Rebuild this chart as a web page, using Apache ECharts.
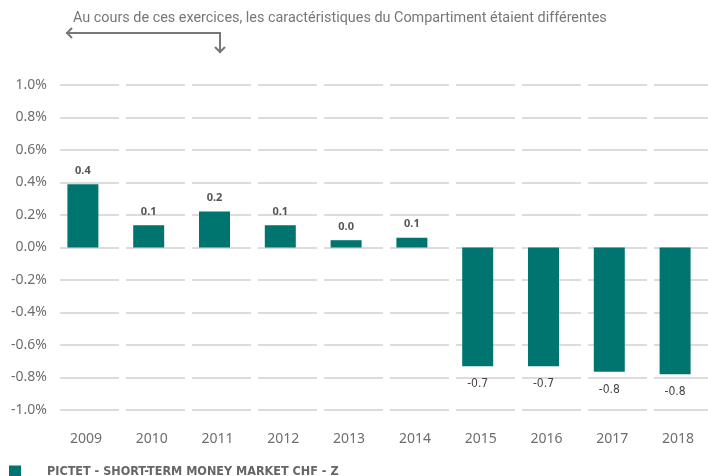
<!DOCTYPE html>
<html>
<head>
<meta charset="utf-8">
<script src="https://cdn.jsdelivr.net/npm/echarts@6/dist/echarts.min.js"></script>
<style>
    html, body { margin: 0; padding: 0; background: #fff; }
    #chart { width: 708px; height: 476px; }
</style>
</head>
<body>
<div id="chart"></div>
<script>
const years = ['2009', '2010', '2011', '2012', '2013', '2014', '2015', '2016', '2017', '2018']
const returns = [0.39, 0.137, 0.222, 0.137, 0.045, 0.06, -0.73, -0.73, -0.765, -0.78]
const seriesName = 'PICTET - SHORT-TERM MONEY MARKET CHF - Z'
const note = 'Au cours de ces exercices, les caractéristiques du Compartiment étaient différentes'

const barColor = '#00756f'
const grey = '#6e6e6e'
const narrow = '"DejaVu Sans Condensed", Roboto, sans-serif'

// gridlines are broken at each category: lead gap, then dash/gap per column
const gridDash = [0, 10]
for (let i = 0; i < years.length; i++) gridDash.push(59, 7)

const chart = echarts.init(document.getElementById('chart'))

chart.setOption({
    animation: false,
    grid: {
        left: 50,
        top: 85,
        width: 660,
        height: 325
    },
    legend: {
        left: 9,
        top: 465,
        padding: 0,
        icon: 'rect',
        itemWidth: 12,
        itemHeight: 12,
        textStyle: {
            fontFamily: narrow,
            fontWeight: 'bold',
            fontSize: 12.5,
            color: '#666',
            padding: [0, 0, 0, 21]
        },
        data: [seriesName]
    },
    xAxis: {
        type: 'category',
        data: years,
        axisLine: { show: false },
        axisTick: { show: false },
        axisLabel: {
            fontFamily: 'Noto Sans',
            fontSize: 14,
            color: grey,
            margin: 22,
            padding: [0, 0, 0, 6]
        }
    },
    yAxis: {
        type: 'value',
        min: -1,
        max: 1,
        interval: 0.2,
        axisLine: { show: false },
        axisTick: { show: false },
        axisLabel: {
            fontFamily: 'Noto Sans',
            fontSize: 14,
            color: grey,
            margin: 3,
            formatter: v => v.toFixed(1) + '%'
        },
        splitLine: {
            lineStyle: { color: '#dcdcdc', width: 2, type: gridDash }
        }
    },
    series: [{
        name: seriesName,
        type: 'bar',
        barWidth: 31,
        itemStyle: { color: barColor },
        data: returns.map(v => ({
            value: v,
            label: v >= 0
                ? { position: 'top', distance: 8, fontWeight: 'bold', fontSize: 11 }
                : { position: 'bottom', distance: 12, fontWeight: 'normal', fontSize: 12,
                    fontFamily: narrow, color: '#444' }
        })),
        label: {
            show: true,
            fontFamily: 'Noto Sans',
            color: '#555',
            formatter: p => p.value.toFixed(1)
        }
    }],
    graphic: [
        {
            type: 'text',
            left: 73,
            top: 11,
            style: {
                text: note,
                font: '14.4px Roboto',
                fill: '#777'
            }
        },
        {
            type: 'polyline',
            shape: { points: [[66, 33], [220, 33], [220, 53]] },
            style: { stroke: '#777', lineWidth: 2, fill: null }
        },
        {
            type: 'polyline',
            shape: { points: [[72, 28], [67, 33], [72, 38]] },
            style: { stroke: '#777', lineWidth: 2, fill: null }
        },
        {
            type: 'polyline',
            shape: { points: [[215, 47], [220, 52], [225, 47]] },
            style: { stroke: '#777', lineWidth: 2, fill: null }
        }
    ]
})
</script>
</body>
</html>
